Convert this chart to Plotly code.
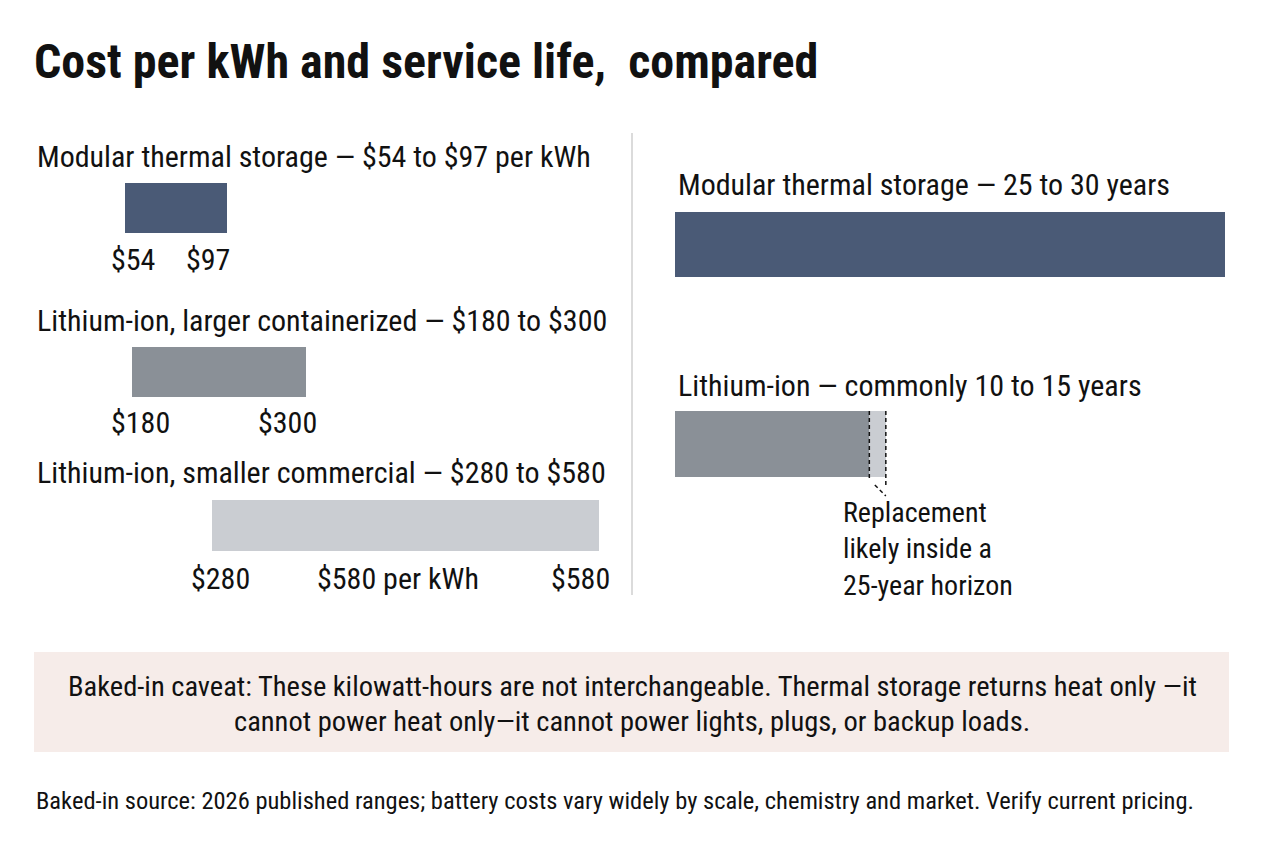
import plotly.graph_objects as go

# cost ranges, $ per kWh
cost_names = ["Modular thermal storage", "Lithium-ion, larger containerized", "Lithium-ion, smaller commercial"]
cost_low = [54, 180, 280]
cost_high = [97, 300, 580]

# service life, years (bar lengths, 0-30 scale)
life_names = ["Modular thermal storage", "Lithium-ion"]
life_text = ["25 to 30 years", "commonly 10 to 15 years"]
life_bar = [30, 10.6]
replacement_band = [10.6, 11.5]

DARK = "#4a5a76"
MID = "#8a9097"
LIGHT = "#cacdd2"
FONT = "Liberation Sans Narrow, Roboto Condensed, DejaVu Sans Condensed, sans-serif"
W, H = 1264, 848
FS = 30  # main text size


def px(x):
    return x / W


def py(y):
    return 1 - y / H


def txt(x, y, s, size=FS, xanchor="left", **kw):
    fig.add_annotation(x=x, y=y, yref="paper", text=s, showarrow=False, xanchor=xanchor,
                       yanchor="middle", font=dict(size=size, color="#111"), **kw)


fig = go.Figure()

# left: each range row gets its own x axis (not to a common scale in the original)
rows = [
    dict(bar=(183, 233), label_y=157, tick_y=259, x0=125, x1=227),
    dict(bar=(347, 397), label_y=320, tick_y=422, x0=132, x1=306),
    dict(bar=(500, 551), label_y=472, tick_y=578, x0=212, x1=599),
]
colors = [DARK, MID, LIGHT]
dom = (35, 620)
for i, r in enumerate(rows):
    n = str(i + 1) if i else ""
    lo, hi = cost_low[i], cost_high[i]
    scale = (r["x1"] - r["x0"]) / (hi - lo)
    rng = [lo - (r["x0"] - dom[0]) / scale, lo + (dom[1] - r["x0"]) / scale]
    fig.add_trace(go.Bar(
        x=[hi - lo], base=[lo], y=[cost_names[i]], orientation="h", width=1,
        marker=dict(color=colors[i], line=dict(width=0)),
        xaxis="x" + n, yaxis="y" + n, hoverinfo="skip", showlegend=False))
    fig.update_layout(**{
        "xaxis" + n: dict(domain=[px(dom[0]), px(dom[1])], range=rng, visible=False, fixedrange=True),
        "yaxis" + n: dict(domain=[py(r["bar"][1]), py(r["bar"][0])], range=[-0.5, 0.5],
                           visible=False, fixedrange=True),
    })
    txt(px(35), py(r["label_y"]),
        f"{cost_names[i]} — ${lo} to ${hi}" + (" per kWh" if i == 0 else ""), xref="paper")
    ax = "x" + n if n else "x"
    txt(lo, py(r["tick_y"]), f"${lo}", xanchor="center", xref=ax, xshift=8)
    txt(hi, py(r["tick_y"]), f"${hi}", xanchor="center", xref=ax, xshift=-19)
    if i == 2:
        txt((lo + hi) / 2, py(r["tick_y"]), f"${hi} per kWh", xanchor="center", xref=ax, xshift=-8)

# right: service life on a shared axis
life_rows = [dict(bar=(212, 277), label_y=184), dict(bar=(411, 477), label_y=385)]
life_colors = [DARK, MID]
for j, r in enumerate(life_rows):
    yn = str(4 + j)
    fig.add_trace(go.Bar(
        x=[life_bar[j]], base=[0], y=[life_names[j]], orientation="h", width=1,
        marker=dict(color=life_colors[j], line=dict(width=0)),
        xaxis="x4", yaxis="y" + yn, hoverinfo="skip", showlegend=False))
    fig.update_layout(**{
        "yaxis" + yn: dict(domain=[py(r["bar"][1]), py(r["bar"][0])], range=[-0.5, 0.5],
                           anchor="x4", visible=False, fixedrange=True),
    })
    txt(px(676), py(r["label_y"]), f"{life_names[j]} — {life_text[j]}", xref="paper")

# replacement window on the lithium bar
b0, b1 = replacement_band
fig.add_trace(go.Bar(
    x=[b1 - b0], base=[b0], y=[life_names[1]], orientation="h", width=1,
    marker=dict(color=LIGHT, line=dict(width=0)),
    xaxis="x4", yaxis="y5", hoverinfo="skip", showlegend=False))
fig.update_layout(xaxis4=dict(domain=[px(675), px(1225)], range=[0, 30], anchor="y4",
                              visible=False, fixedrange=True))
dash = dict(color="#111", width=1.5, dash="4px,3px")
fig.add_shape(type="line", xref="x4", yref="paper", x0=b0, x1=b0, y0=py(411), y1=py(479), line=dash)
fig.add_shape(type="line", xref="x4", yref="paper", x0=b0 + 0.3, x1=b1, y0=py(485), y1=py(496), line=dash)
fig.add_shape(type="line", xref="x4", yref="paper", x0=b1, x1=b1, y0=py(411), y1=py(488), line=dash)
txt(px(841), py(549), "Replacement<br>likely inside a<br>25-year horizon", size=28,
    xref="paper", align="left")

# divider
fig.add_shape(type="line", xref="paper", yref="paper", x0=px(632), x1=px(632),
              y0=py(133), y1=py(595), line=dict(color="#cfcfcf", width=1.5))

# title
txt(px(32), py(62), "<b>Cost per kWh and service life,  compared</b>", size=48, xref="paper")

# caveat box
fig.add_shape(type="rect", xref="paper", yref="paper", x0=px(34), x1=px(1229),
              y0=py(752), y1=py(652), fillcolor="#f6ece9", line=dict(width=0), layer="below")
caveat = ["Baked-in caveat: These kilowatt-hours are not interchangeable. Thermal storage returns heat only —it",
          "cannot power heat only—it cannot power lights, plugs, or backup loads."]
for k, line in enumerate(caveat):
    txt(px(632), py(686 + 35 * k), line, size=28.5, xanchor="center", xref="paper")

txt(px(34), py(800), "Baked-in source: 2026 published ranges; battery costs vary widely by scale, "
                     "chemistry and market. Verify current pricing.", size=24.5, xref="paper")

fig.update_layout(width=W, height=H, margin=dict(l=0, r=0, t=0, b=0),
                  paper_bgcolor="white", plot_bgcolor="white", barmode="overlay",
                  font=dict(family=FONT, color="#111"), bargap=0)

fig.write_html("out.html", config={"displayModeBar": False},
               post_script="document.body.style.margin='0';")
